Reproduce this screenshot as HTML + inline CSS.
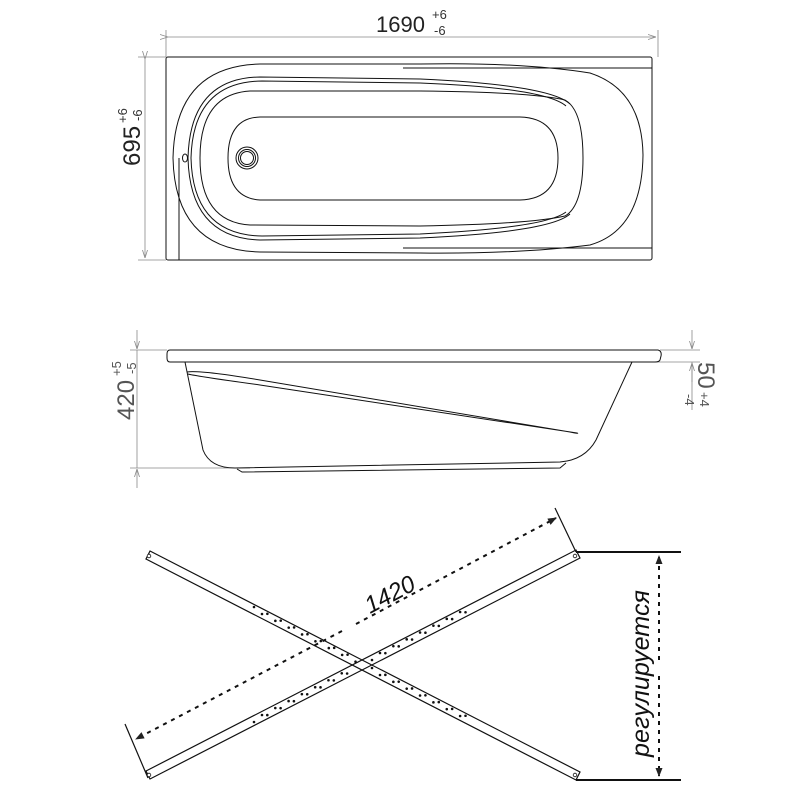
<!DOCTYPE html>
<html><head><meta charset="utf-8"><style>
html,body{margin:0;padding:0;background:#fff;width:800px;height:800px;overflow:hidden}
svg{display:block}
</style></head><body>
<svg width="800" height="800" viewBox="0 0 800 800" xmlns="http://www.w3.org/2000/svg" font-family="Liberation Sans, sans-serif">
<defs>
<marker id="ag" markerUnits="userSpaceOnUse" markerWidth="8" markerHeight="6" refX="8" refY="3" orient="auto"><path d="M0,0.5 L8,3 L0,5.5" fill="none" stroke="#888" stroke-width="0.8"/></marker>
<marker id="ab" markerUnits="userSpaceOnUse" markerWidth="9" markerHeight="8" refX="8" refY="4" orient="auto"><path d="M0,0.5 L9,4 L0,7.5 Z" fill="#222"/></marker>
</defs>
<!-- TOP VIEW -->
<g fill="none" stroke="#888" stroke-width="0.8">
<line x1="166" y1="57" x2="166" y2="30"/><line x1="658" y1="57" x2="658" y2="30"/>
<line x1="168" y1="37" x2="656" y2="37" marker-end="url(#ag)" marker-start="url(#ag)"/>
<line x1="166" y1="57" x2="138" y2="57"/><line x1="166" y1="260" x2="138" y2="260"/>
<line x1="145" y1="59" x2="145" y2="258" marker-end="url(#ag)" marker-start="url(#ag)"/>
</g>
<text x="376" y="32" font-size="22" fill="#222">1690</text>
<text x="432" y="19" font-size="13" fill="#333">+6</text>
<text x="434" y="35" font-size="13" fill="#333">-6</text>
<g transform="translate(140,166) rotate(-90)"><text x="0" y="0" font-size="24" fill="#222">695</text><text x="43" y="-13" font-size="13" fill="#333">+6</text><text x="45" y="2" font-size="13" fill="#333">-6</text></g>
<g fill="none" stroke="#111" stroke-width="1">
<rect x="166" y="57" width="486" height="203" rx="2"/>
<path d="M420,64 Q520,62 590,73 Q642,90 643,155 Q642,230 590,245 Q520,254 420,253 L260,252 Q175,250 173,158 Q175,66 260,64 Z"/>
<line x1="403" y1="68" x2="652" y2="68"/><line x1="403" y1="248" x2="652" y2="248"/>
<path d="M570,104 Q550,85 420,79 L260,77 Q190,78 188,158 Q190,238 260,240 L420,238 Q550,232 570,214"/>
<path d="M566,106 Q545,88 420,83 L262,81 Q193,82 191,158 Q193,235 262,236 L420,234 Q545,228 566,212"/>
<path d="M420,91 Q530,92 565,100 Q583,110 583,158 Q583,206 565,216 Q530,224 420,226 L250,225 Q200,222 200,158 Q200,94 250,91 Z"/>
<path d="M260,117 L520,117 Q558,118 558,158 Q558,199 520,200 L260,200 Q228,198 228,158 Q228,118 260,117 Z"/>
<circle cx="247" cy="158" r="11"/><circle cx="247" cy="158" r="8.5"/><circle cx="247" cy="158" r="6.5"/>
<ellipse cx="185" cy="158" rx="2.5" ry="4"/>
<line x1="179" y1="158" x2="179" y2="260"/>
</g>
<!-- SIDE VIEW -->
<g fill="none" stroke="#888" stroke-width="0.8">
<line x1="167" y1="350" x2="130" y2="350"/><line x1="250" y1="468" x2="130" y2="468"/>
<line x1="137" y1="330" x2="137" y2="349" marker-end="url(#ag)"/><line x1="137" y1="488" x2="137" y2="469" marker-end="url(#ag)"/>
<line x1="137" y1="350" x2="137" y2="468"/>
<line x1="660" y1="350" x2="700" y2="350"/><line x1="632" y1="362" x2="700" y2="362"/>
<line x1="692" y1="330" x2="692" y2="349" marker-end="url(#ag)"/><line x1="692" y1="382" x2="692" y2="363" marker-end="url(#ag)"/>
<line x1="692" y1="362" x2="692" y2="410"/>
</g>
<g transform="translate(134,420) rotate(-90)"><text x="0" y="0" font-size="24" fill="#555">420</text><text x="44" y="-13" font-size="13" fill="#555">+5</text><text x="46" y="2" font-size="13" fill="#555">-5</text></g>
<g transform="translate(698,362) rotate(90)"><text x="0" y="0" font-size="24" fill="#555">50</text><text x="30" y="-2" font-size="13" fill="#555">+4</text><text x="32" y="13" font-size="13" fill="#555">-4</text></g>
<g fill="none" stroke="#111" stroke-width="1">
<path d="M170,350 L658,350 Q662,351 661,356 L660,360 Q659,362 655,362 L170,362 Q167,362 167,358 L167,354 Q167,350 170,350 Z"/>
<path d="M185,362 L203,450 Q210,468 235,468 L560,462 Q585,460 596,440 L632,362"/>
<path d="M187,372 Q200,370 260,380 L570,432 Q580,434 577,433 L260,385 Q195,376 188,374"/>
<path d="M237,469 L242,472 L560,468 L566,463"/>
</g>
<!-- LEGS -->
<g fill="none" stroke="#111" stroke-width="1.2">
<polygon points="150,551 580,772 576,780 146,559"/>
<polygon points="146,771 576,550 580,558 150,779"/>
<line x1="576" y1="552" x2="681" y2="552" stroke-width="2"/>
<line x1="576" y1="780" x2="681" y2="780" stroke-width="2"/>
<line x1="555" y1="508" x2="576" y2="552"/>
<line x1="125" y1="724" x2="148" y2="778"/>
</g>
<g fill="#fff" stroke="#111" stroke-width="0.8">
<circle cx="149" cy="556" r="1.8"/><circle cx="575" cy="775" r="1.8"/>
<circle cx="575" cy="556" r="1.8"/><circle cx="149" cy="775" r="1.8"/>
</g>
<g stroke="#111" stroke-width="2.6" stroke-linecap="round" stroke-dasharray="0,15">
<line x1="254" y1="607" x2="360" y2="661"/>
<line x1="262" y1="614" x2="360" y2="664"/>
<line x1="372" y1="668" x2="466" y2="716"/>
<line x1="380" y1="675" x2="466" y2="719"/>
<line x1="254" y1="722" x2="350" y2="672"/>
<line x1="262" y1="715" x2="350" y2="669"/>
<line x1="372" y1="660" x2="466" y2="612"/>
<line x1="380" y1="653" x2="466" y2="609"/>
</g>
<g stroke="#111" stroke-width="2" fill="none" stroke-dasharray="4,5">
<line x1="356" y1="624" x2="556" y2="518" marker-end="url(#ab)"/>
<line x1="342" y1="631" x2="136" y2="739" marker-end="url(#ab)"/>
<line x1="659" y1="660" x2="659" y2="556" marker-end="url(#ab)"/>
<line x1="659" y1="676" x2="659" y2="776" marker-end="url(#ab)"/>
</g>
<text transform="translate(370,614) rotate(-28)" font-size="24" font-style="italic" fill="#111">1420</text>
<text transform="translate(649,757) rotate(-90)" font-size="25" font-style="italic" fill="#111" textLength="167" lengthAdjust="spacingAndGlyphs">регулируется</text>
</svg>
</body></html>
